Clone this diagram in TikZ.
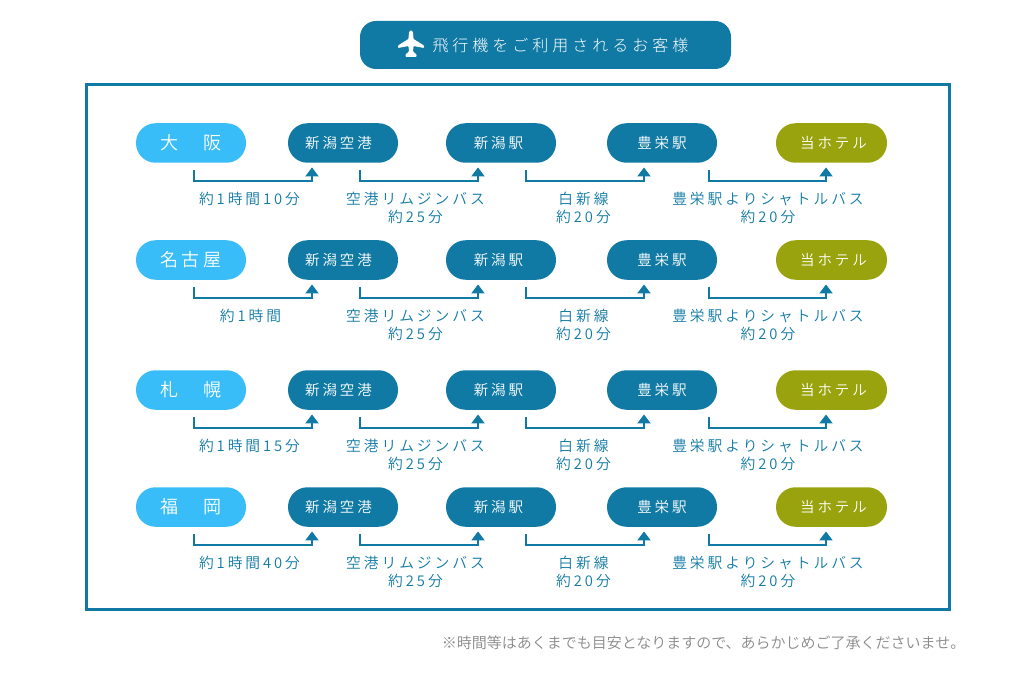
\documentclass[tikz,border=0pt]{standalone}
\usepackage{fontspec}
\usepackage{tikz}
\usetikzlibrary{arrows.meta}
\newfontfamily\jpnote{Noto Sans CJK JP DemiLight}
\newfontfamily\jpwide[LetterSpace=20]{Noto Sans CJK JP DemiLight}
\newfontfamily\jptitle[LetterSpace=25]{Noto Sans CJK JP Light}
\definecolor{seablue}{HTML}{1079A4}
\definecolor{skyblue}{HTML}{38BDF8}
\definecolor{olive}{HTML}{99A30D}
\definecolor{notegray}{HTML}{888888}

\begin{document}
\begin{tikzpicture}[x=1pt,y=1pt]
\tikzstyle{every node}+=[inner sep=0pt]
\tikzstyle{pill}=[fill=seablue,text=white,rounded corners=19.5pt,minimum width=110pt,minimum height=39.5pt,font=\jpwide\fontsize{14.5}{18}\selectfont]
\tikzstyle{origin}=[pill,fill=skyblue,font=\jpwide\fontsize{18}{18}\selectfont]
\tikzstyle{hotel}=[pill,fill=olive,minimum width=111pt]
\tikzstyle{note}=[text=seablue,align=center,font=\jpwide\fontsize{14.75}{18}\selectfont]
\tikzstyle{route}=[draw=seablue,line width=2pt,-{Triangle[width=13pt,length=9pt]}]
\useasboundingbox (0,0) rectangle (1022,-676);
\draw [seablue,line width=3pt] (86.5,-84.5) rectangle (949.5,-609.5);
\node [pill,rounded corners=16pt,minimum width=371pt,minimum height=48pt,font=\jptitle\fontsize{16}{18}\selectfont,text=white] (title) at (545.5,-45) {\hspace*{30pt}飛行機をご利用されるお客様};
\fill [white,rounded corners=0.8pt] (411,-30) -- (413,-32) -- (413.5,-39) -- (424,-45.5) -- (424,-48) -- (413.5,-46) -- (413,-51.5) -- (416.5,-54.5) -- (416.5,-57) -- (405.5,-57) -- (405.5,-54.5) -- (409,-51.5) -- (408.5,-46) -- (398,-48) -- (398,-45.5) -- (408.5,-39) -- (409,-32) -- cycle;
% osaka
\node [origin] (origin1) at (191,-143) {大　阪};
\node [pill] (air1) at (343,-143) {\hspace*{-9pt}新潟空港};
\node [pill] (sta1) at (501,-143) {\hspace*{-5pt}新潟駅};
\node [pill] (toy1) at (662,-143) {豊栄駅};
\node [hotel] (hotel1) at (831.5,-143) {\hspace*{4pt}当ホテル};
\draw [route] ([xshift=3,yshift=-7]origin1.south) -- ++(0,-11.5) -| ([xshift=-31,yshift=-4.5]air1.south);
\draw [route] ([xshift=17,yshift=-7]air1.south) -- ++(0,-11.5) -| ([xshift=-23,yshift=-4.5]sta1.south);
\draw [route] ([xshift=25,yshift=-7]sta1.south) -- ++(0,-11.5) -| ([xshift=-18,yshift=-4.5]toy1.south);
\draw [route] ([xshift=47,yshift=-7]toy1.south) -- ++(0,-11.5) -| ([xshift=-5.5,yshift=-4.5]hotel1.south);
\node [note] (time1) at (249.5,-199) {約1時間10分};
\node [note] (bus1) at (415.5,-208) {空港リムジンバス\\約25分};
\node [note] (line1) at (583.5,-208) {白新線\\約20分};
\node [note] (shuttle1) at (768,-208) {豊栄駅よりシャトルバス\\約20分};
% nagoya
\node [origin] (origin2) at (191,-260) {名古屋};
\node [pill] (air2) at (343,-260) {\hspace*{-9pt}新潟空港};
\node [pill] (sta2) at (501,-260) {\hspace*{-5pt}新潟駅};
\node [pill] (toy2) at (662,-260) {豊栄駅};
\node [hotel] (hotel2) at (831.5,-260) {\hspace*{4pt}当ホテル};
\draw [route] ([xshift=3,yshift=-7]origin2.south) -- ++(0,-11.5) -| ([xshift=-31,yshift=-4.5]air2.south);
\draw [route] ([xshift=17,yshift=-7]air2.south) -- ++(0,-11.5) -| ([xshift=-23,yshift=-4.5]sta2.south);
\draw [route] ([xshift=25,yshift=-7]sta2.south) -- ++(0,-11.5) -| ([xshift=-18,yshift=-4.5]toy2.south);
\draw [route] ([xshift=47,yshift=-7]toy2.south) -- ++(0,-11.5) -| ([xshift=-5.5,yshift=-4.5]hotel2.south);
\node [note] (time2) at (250.5,-316) {約1時間};
\node [note] (bus2) at (415.5,-325) {空港リムジンバス\\約25分};
\node [note] (line2) at (583.5,-325) {白新線\\約20分};
\node [note] (shuttle2) at (768,-325) {豊栄駅よりシャトルバス\\約20分};
% sapporo
\node [origin] (origin3) at (191,-390) {札　幌};
\node [pill] (air3) at (343,-390) {\hspace*{-9pt}新潟空港};
\node [pill] (sta3) at (501,-390) {\hspace*{-5pt}新潟駅};
\node [pill] (toy3) at (662,-390) {豊栄駅};
\node [hotel] (hotel3) at (831.5,-390) {\hspace*{4pt}当ホテル};
\draw [route] ([xshift=3,yshift=-7]origin3.south) -- ++(0,-11.5) -| ([xshift=-31,yshift=-4.5]air3.south);
\draw [route] ([xshift=17,yshift=-7]air3.south) -- ++(0,-11.5) -| ([xshift=-23,yshift=-4.5]sta3.south);
\draw [route] ([xshift=25,yshift=-7]sta3.south) -- ++(0,-11.5) -| ([xshift=-18,yshift=-4.5]toy3.south);
\draw [route] ([xshift=47,yshift=-7]toy3.south) -- ++(0,-11.5) -| ([xshift=-5.5,yshift=-4.5]hotel3.south);
\node [note] (time3) at (249.5,-446) {約1時間15分};
\node [note] (bus3) at (415.5,-455) {空港リムジンバス\\約25分};
\node [note] (line3) at (583.5,-455) {白新線\\約20分};
\node [note] (shuttle3) at (768,-455) {豊栄駅よりシャトルバス\\約20分};
% fukuoka
\node [origin] (origin4) at (191,-507) {福　岡};
\node [pill] (air4) at (343,-507) {\hspace*{-9pt}新潟空港};
\node [pill] (sta4) at (501,-507) {\hspace*{-5pt}新潟駅};
\node [pill] (toy4) at (662,-507) {豊栄駅};
\node [hotel] (hotel4) at (831.5,-507) {\hspace*{4pt}当ホテル};
\draw [route] ([xshift=3,yshift=-7]origin4.south) -- ++(0,-11.5) -| ([xshift=-31,yshift=-4.5]air4.south);
\draw [route] ([xshift=17,yshift=-7]air4.south) -- ++(0,-11.5) -| ([xshift=-23,yshift=-4.5]sta4.south);
\draw [route] ([xshift=25,yshift=-7]sta4.south) -- ++(0,-11.5) -| ([xshift=-18,yshift=-4.5]toy4.south);
\draw [route] ([xshift=47,yshift=-7]toy4.south) -- ++(0,-11.5) -| ([xshift=-5.5,yshift=-4.5]hotel4.south);
\node [note] (time4) at (249.5,-563) {約1時間40分};
\node [note] (bus4) at (415.5,-572) {空港リムジンバス\\約25分};
\node [note] (line4) at (583.5,-572) {白新線\\約20分};
\node [note] (shuttle4) at (768,-572) {豊栄駅よりシャトルバス\\約20分};
\node [text=notegray,font=\jpnote\fontsize{15}{18}\selectfont] (caveat) at (703.5,-642.5) {※時間等はあくまでも目安となりますので、あらかじめご了承くださいませ。};
\end{tikzpicture}
\end{document}
